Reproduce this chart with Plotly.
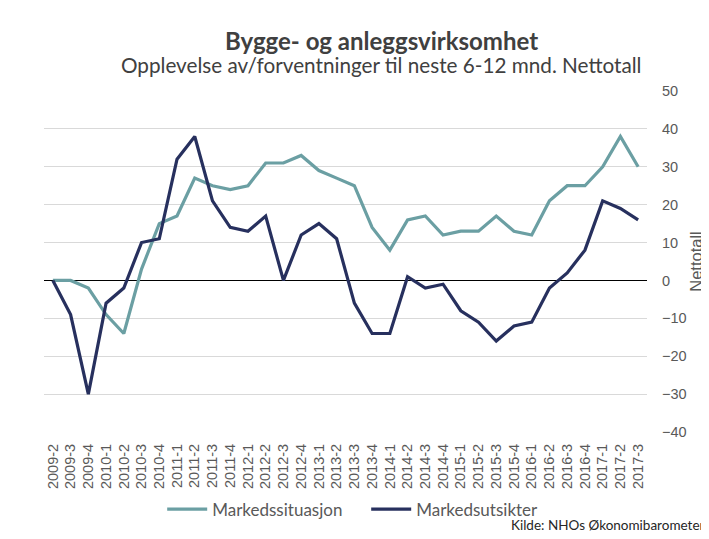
import plotly.graph_objects as go

quarters = ["2009-2", "2009-3", "2009-4", "2010-1", "2010-2", "2010-3", "2010-4",
            "2011-1", "2011-2", "2011-3", "2011-4", "2012-1", "2012-2", "2012-3",
            "2012-4", "2013-1", "2013-2", "2013-3", "2013-4", "2014-1", "2014-2",
            "2014-3", "2014-4", "2015-1", "2015-2", "2015-3", "2015-4", "2016-1",
            "2016-2", "2016-3", "2016-4", "2017-1", "2017-2", "2017-3"]

markedssituasjon = [0, 0, -2, -9, -14, 3, 15, 17, 27, 25, 24, 25, 31, 31, 33, 29, 27, 25,
                    14, 8, 16, 17, 12, 13, 13, 17, 13, 12, 21, 25, 25, 30, 38, 30]

markedsutsikter = [0, -9, -30, -6, -2, 10, 11, 32, 38, 21, 14, 13, 17, 0, 12, 15, 11, -6,
                   -14, -14, 1, -2, -1, -8, -11, -16, -12, -11, -2, 2, 8, 21, 19, 16]

y_ticks = [-40, -30, -20, -10, 0, 10, 20, 30, 40, 50]

FONT = "Lato, 'Open Sans', sans-serif"
AXFONT = "'Liberation Sans', Arial, sans-serif"
TEAL = "#6B9FA3"
NAVY = "#27305E"

fig = go.Figure()
fig.add_trace(go.Scatter(x=quarters, y=markedssituasjon, mode="lines",
                         name="Markedssituasjon", line=dict(color=TEAL, width=3.2)))
fig.add_trace(go.Scatter(x=quarters, y=markedsutsikter, mode="lines",
                         name="Markedsutsikter", line=dict(color=NAVY, width=3.2)))

# the page body adds an 8px offset, so the figure is 8px smaller on each side
fig.update_layout(
    width=701, height=531,
    margin=dict(l=36, r=62, t=83, b=107, autoexpand=False),
    paper_bgcolor="white", plot_bgcolor="white",
    font=dict(family=FONT, color="#595959"),
    showlegend=True,
    legend=dict(orientation="h", x=0.196, xanchor="left", y=-0.175, yanchor="top",
                font=dict(size=17, color="#595959"), itemwidth=40, tracegroupgap=0,
                entrywidth=149, entrywidthmode="pixels"),
    annotations=[
        dict(text="<b>Bygge- og anleggsvirksomhet</b>", xref="paper", yref="paper",
             x=0.56, y=1.0, yshift=51, xanchor="center", yanchor="middle", showarrow=False,
             font=dict(size=24, color="#404040", family=FONT)),
        dict(text="Opplevelse av/forventninger til neste 6-12 mnd. Nettotall", xref="paper",
             yref="paper", x=0.56, y=1.0, yshift=26, xanchor="center", yanchor="middle",
             showarrow=False, font=dict(size=20.7, color="#404040", family=FONT)),
        dict(text="Kilde: NHOs Økonomibarometer", xref="paper", yref="paper",
             x=1.1, y=-0.273, xanchor="right", yanchor="middle", showarrow=False,
             font=dict(size=13.5, color="#262626", family=FONT)),
    ],
)

fig.update_xaxes(type="category", range=[-0.5, len(quarters) - 0.5], tickangle=-90,
                 tickfont=dict(size=14.5, color="#595959", family=AXFONT), showgrid=False,
                 showline=False, ticks="", zeroline=False, automargin=False,
                 ticklabelstandoff=8)
fig.update_yaxes(side="right", range=[-40, 50], tickvals=y_ticks,
                 tickfont=dict(size=14.5, color="#595959", family=AXFONT), showgrid=True,
                 gridcolor="#D9D9D9", gridwidth=1.3, zeroline=True, zerolinecolor="#000000",
                 zerolinewidth=1.3, showline=False, ticks="", automargin=False,
                 ticklabelstandoff=14,
                 title=dict(text="Nettotall", font=dict(size=16.5, color="#595959", family=AXFONT),
                            standoff=4))

fig.write_html("out.html")
